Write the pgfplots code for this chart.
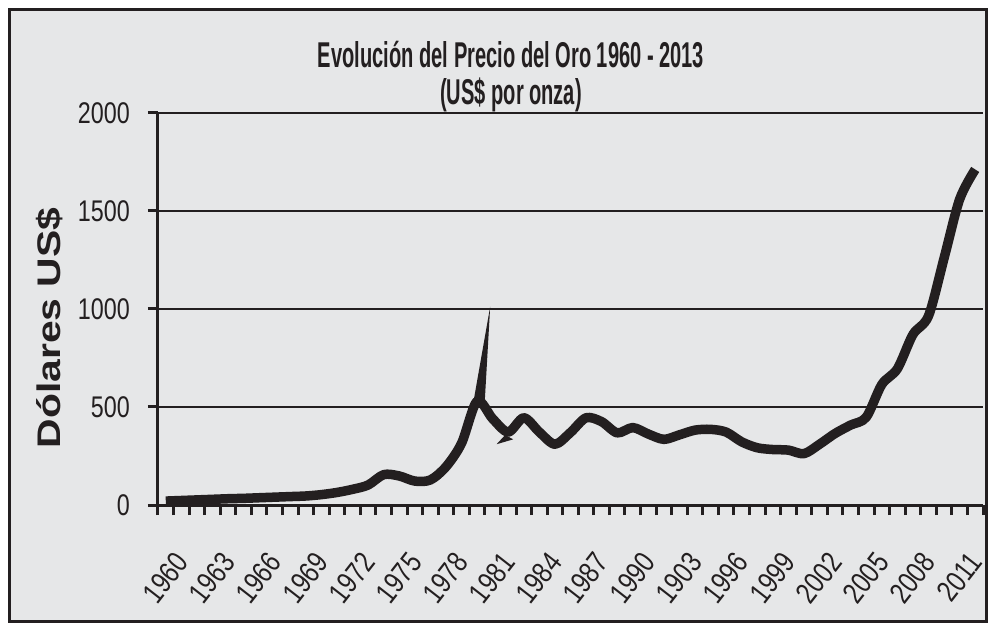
\documentclass[border=0pt]{standalone}
\usepackage{fontspec}
\setmainfont{Liberation Sans}
\newfontfamily\condfont{Liberation Sans}[FakeStretch=0.8]
\usepackage{pgfplots}
\pgfplotsset{compat=1.18}
\definecolor{bg}{HTML}{E6E7E8}
\definecolor{ink}{HTML}{231F20}

\begin{document}
\begin{tikzpicture}
\useasboundingbox (-158bp,-119bp) rectangle (831bp,505bp);
\filldraw[fill=bg, draw=ink, line width=3bp] (-148bp,-116bp) rectangle (828bp,495bp);
\begin{axis}[
  at={(0,0)}, anchor=south west,
  scale only axis, width=825bp, height=392bp,
  xmin=-0.5, xmax=52.5, ymin=0, ymax=2000,
  axis lines=left,
  axis line style={-, line width=3bp, ink},
  clip=false,
  xtick={0,3,...,51},
  xticklabels={1960,1963,1966,1969,1972,1975,1978,1981,1984,1987,1990,1903,1996,1999,2002,2005,2008,2011},
  minor xtick={-0.5,0.5,...,52.5},
  ytick={0,500,1000,1500,2000},
  tick align=outside,
  major tick length=10bp,
  minor tick length=10bp,
  tick style={ink, line width=3bp},
  major x tick style={draw=none},
  ymajorgrids,
  major grid style={ink, line width=2.5bp},
  /pgf/number format/assume math mode=true,
  /pgf/number format/1000 sep={},
  yticklabel style={font=\fontsize{30}{30}\selectfont, text=ink, xshift=-18bp, xscale=0.78, anchor=east, inner sep=0pt},
  xticklabel style={font=\condfont\fontsize{30}{30}\selectfont, text=ink, xshift=7.5bp, yshift=-35bp, rotate=52, anchor=north east, inner sep=0pt},
  ylabel={Dólares US\$},
  every axis y label/.style={at={(axis description cs:-0.1315,0.4515)}, xscale=0.8, rotate=90, anchor=center, font=\bfseries\fontsize{41}{41}\selectfont, text=ink, inner sep=0pt},
]
\addplot[ink, line width=9.5bp, smooth, line cap=butt, line join=round] table[x=i, y=v] {
i  v
0  20
1  23
2  26
3  29
4  32
5  34
6  37
7  40
8  43
9  46
10 53
11 64
12 80
13 102
14 155
15 148
16 122
17 128
18 195
19 315
20 530
21 440
22 372
23 445
24 372
25 310
26 370
27 445
28 425
29 368
30 395
31 362
32 335
33 358
34 382
35 386
36 372
37 322
38 292
39 283
40 280
41 262
42 310
43 365
44 408
45 448
46 615
47 695
48 870
49 965
50 1260
51 1560
52 1712
};
\addplot[fill=ink, draw=none] coordinates {(19.75,520) (20.84,1012) (20.5,540)} -- cycle;
\addplot[fill=ink, draw=none] coordinates {(21.8,357) (21.25,310) (22.32,335)} -- cycle;
\end{axis}
\node[font=\bfseries\fontsize{36}{36}\selectfont, text=ink, xscale=0.56, anchor=base, inner sep=0pt] at (353bp,437bp) {Evolución del Precio del Oro 1960 - 2013};
\node[font=\bfseries\fontsize{36}{36}\selectfont, text=ink, xscale=0.56, anchor=base, inner sep=0pt] at (353bp,400bp) {(US\$ por onza)};
\end{tikzpicture}
\end{document}
